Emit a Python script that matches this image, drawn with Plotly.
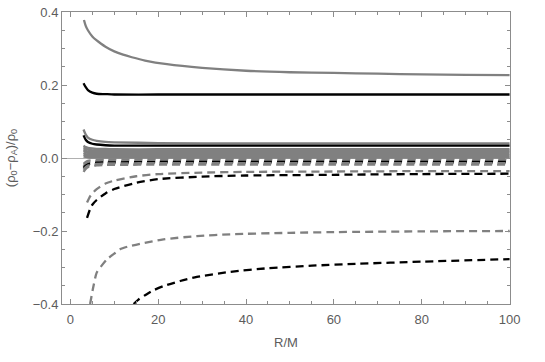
import plotly.graph_objects as go

# ---- data ----
x_gs1 = [3.1, 3.5, 4, 5, 6, 7, 8, 10, 12, 14, 17, 22, 30, 40, 50, 60, 70, 80, 90, 100]
y_gs1 = [0.378, 0.362, 0.350, 0.333, 0.322, 0.313, 0.305, 0.292, 0.283, 0.276, 0.267, 0.257,
         0.247, 0.239, 0.235, 0.233, 0.231, 0.229, 0.228, 0.227]

x_bs1 = [3.0, 3.5, 4, 5, 6, 8, 10, 20, 40, 60, 80, 100]
y_bs1 = [0.205, 0.194, 0.186, 0.179, 0.176, 0.175, 0.174, 0.174, 0.174, 0.174, 0.174, 0.174]

x_small = [3.0, 3.5, 4, 5, 6, 8, 10, 20, 40, 60, 80, 100]
y_gs2 = [0.078, 0.064, 0.056, 0.050, 0.047, 0.044, 0.043, 0.041, 0.040, 0.040, 0.040, 0.040]
y_bs2 = [0.062, 0.050, 0.044, 0.039, 0.037, 0.035, 0.034, 0.034, 0.034, 0.034, 0.034, 0.034]

# near-zero band of solid grey curves
y_band = [
    [0.034, 0.030, 0.028, 0.026, 0.025, 0.025, 0.024, 0.024, 0.024, 0.024, 0.024, 0.024],
    [0.029, 0.025, 0.023, 0.021, 0.020, 0.020, 0.020, 0.020, 0.020, 0.020, 0.020, 0.020],
    [0.024, 0.020, 0.018, 0.017, 0.016, 0.016, 0.016, 0.016, 0.016, 0.016, 0.016, 0.016],
    [0.019, 0.016, 0.014, 0.013, 0.012, 0.012, 0.012, 0.012, 0.012, 0.012, 0.012, 0.012],
    [0.014, 0.011, 0.010, 0.009, 0.008, 0.008, 0.008, 0.008, 0.008, 0.008, 0.008, 0.008],
    [0.009, 0.007, 0.006, 0.005, 0.004, 0.004, 0.004, 0.004, 0.004, 0.004, 0.004, 0.004],
    [0.004, 0.003, 0.002, 0.001, 0.001, 0.001, 0.001, 0.001, 0.001, 0.001, 0.001, 0.001],
]
# near-zero dashed curves
y_dband = [
    [-0.016, -0.011, -0.008, -0.006, -0.005, -0.004, -0.004, -0.003, -0.003, -0.003, -0.003, -0.003],
    [-0.022, -0.016, -0.013, -0.010, -0.009, -0.008, -0.008, -0.007, -0.007, -0.007, -0.007, -0.007],
    [-0.027, -0.021, -0.017, -0.014, -0.013, -0.012, -0.012, -0.011, -0.011, -0.011, -0.011, -0.011],
    [-0.032, -0.025, -0.021, -0.018, -0.016, -0.015, -0.015, -0.014, -0.014, -0.014, -0.014, -0.014],
    [-0.038, -0.030, -0.025, -0.022, -0.020, -0.019, -0.019, -0.018, -0.018, -0.018, -0.018, -0.018],
]
c_dband = ["gray", "gray", "black", "gray", "gray"]

x_gd2 = [3.8, 4.5, 5, 6, 8, 10, 15, 20, 30, 40, 60, 80, 100]
y_gd2 = [-0.122, -0.105, -0.097, -0.085, -0.070, -0.062, -0.050, -0.044, -0.040, -0.038,
         -0.037, -0.036, -0.036]
x_bd2 = [3.8, 4.5, 5, 6, 8, 10, 15, 20, 30, 40, 60, 80, 100]
y_bd2 = [-0.164, -0.140, -0.128, -0.115, -0.097, -0.085, -0.068, -0.058, -0.051, -0.048,
         -0.046, -0.044, -0.043]

x_gd1 = [4.5, 5.2, 6, 7, 8.3, 10, 11.3, 13, 15.9, 21.2, 28.8, 36.4, 50, 60, 80, 100]
y_gd1 = [-0.40, -0.355, -0.314, -0.297, -0.278, -0.262, -0.250, -0.243, -0.235, -0.223,
         -0.214, -0.209, -0.205, -0.203, -0.201, -0.200]
x_bd1 = [14.4, 15.5, 17.4, 19, 21.2, 25, 28.8, 36.4, 45, 55, 65, 80, 100]
y_bd1 = [-0.40, -0.388, -0.373, -0.362, -0.351, -0.337, -0.326, -0.312, -0.302, -0.295,
         -0.290, -0.284, -0.277]

x_ticks = [0, 20, 40, 60, 80, 100]
y_ticks = [-0.4, -0.2, 0.0, 0.2, 0.4]
y_ticktext = ["\u22120.4", "\u22120.2", "0.0", "0.2", "0.4"]

GRAY = "#808080"
BLACK = "#000000"
DASH = "8px,5px"
FONT = "Liberation Sans, Arial, sans-serif"
TXT = "#5c5c5c"

fig = go.Figure()


def add(x, y, color, dash="solid"):
    fig.add_trace(go.Scatter(x=x, y=y, mode="lines",
                             line=dict(color=color, width=2.3, dash=dash,
                                       shape="spline", smoothing=0.7),
                             showlegend=False, hoverinfo="skip"))


add(x_gs1, y_gs1, GRAY)
add(x_bs1, y_bs1, BLACK)
add(x_small, y_gs2, GRAY)
add(x_small, y_bs2, BLACK)
for yb in y_band:
    add(x_small, yb, GRAY)
for yb, c in zip(y_dband, c_dband):
    add(x_small, yb, GRAY if c == "gray" else BLACK, DASH)
add(x_gd2, y_gd2, GRAY, DASH)
add(x_bd2, y_bd2, BLACK, DASH)
add(x_gd1, y_gd1, GRAY, DASH)
add(x_bd1, y_bd1, BLACK, DASH)

axis_common = dict(
    showline=True, linecolor="#8c8c8c", linewidth=1, mirror="allticks",
    ticks="inside", ticklen=5, tickcolor="#8c8c8c", tickwidth=1,
    showgrid=False, automargin=False,
    tickfont=dict(family=FONT, size=13, color=TXT),
)

fig.update_xaxes(range=[-1.9, 100.1], tickvals=x_ticks, ticklabelstandoff=3,
                 minor=dict(ticks="inside", ticklen=3, dtick=5, tick0=0, tickcolor="#8c8c8c"),
                 zeroline=False,
                 title=dict(text="R/M", standoff=12, font=dict(family=FONT, size=13, color=TXT)),
                 **axis_common)
fig.update_yaxes(range=[-0.4, 0.4], tickvals=y_ticks, ticktext=y_ticktext,
                 minor=dict(ticks="inside", ticklen=3, dtick=0.05, tick0=0, tickcolor="#8c8c8c"),
                 zeroline=True, zerolinecolor="#b0b0b0", zerolinewidth=1,
                 title=dict(text="(\u03c1<sub>0</sub>\u2212\u03c1<sub>A</sub>)/\u03c1<sub>0</sub>",
                            standoff=14, font=dict(family=FONT, size=13, color=TXT)),
                 **axis_common)

fig.update_layout(width=545, height=362, margin=dict(l=62, r=35, t=12, b=58),
                  plot_bgcolor="white", paper_bgcolor="white")

fig.write_html("out.html", config={"displayModeBar": False},
               post_script="document.body.style.margin='0';document.body.style.padding='0';")
